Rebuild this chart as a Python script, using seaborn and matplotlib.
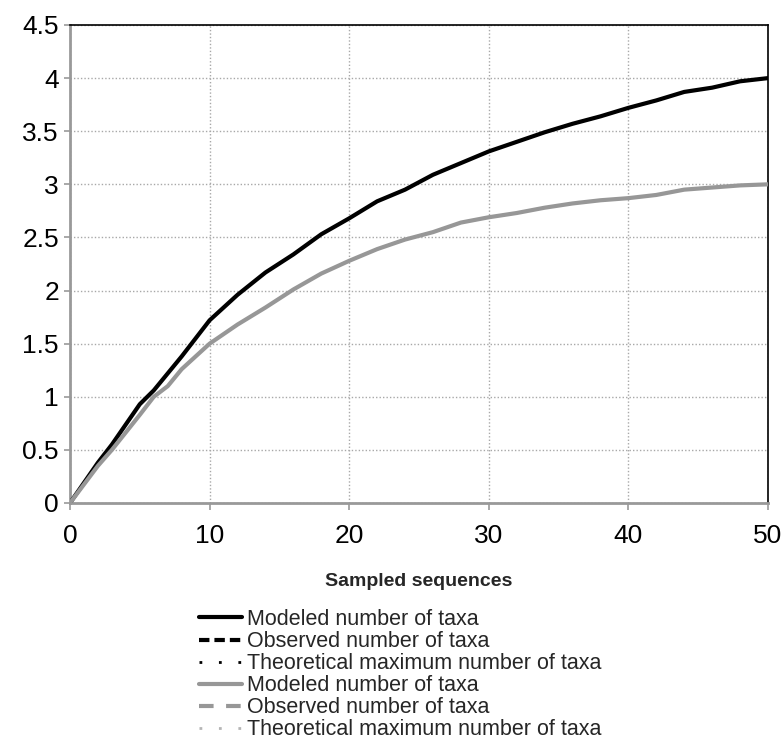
import numpy as np
import pandas as pd
import matplotlib
matplotlib.use('Agg')
import matplotlib.pyplot as plt
from matplotlib.lines import Line2D
import seaborn as sns

# sampled sequences (x) and modeled number of taxa for the two samples
x_vals = [0, 2, 3, 5, 6, 7, 8, 10, 12, 14, 16, 18, 20, 22, 24, 26, 28, 30,
          32, 34, 36, 38, 40, 42, 44, 46, 48, 50]
modeled_black = [0, 0.38, 0.55, 0.93, 1.06, 1.22, 1.38, 1.72, 1.96, 2.17, 2.34,
                 2.53, 2.68, 2.84, 2.95, 3.09, 3.2, 3.31, 3.4, 3.49, 3.57,
                 3.64, 3.72, 3.79, 3.87, 3.91, 3.97, 4.0]
modeled_gray = [0, 0.35, 0.5, 0.83, 1.0, 1.1, 1.26, 1.5, 1.68, 1.84, 2.01,
                2.16, 2.28, 2.39, 2.48, 2.55, 2.64, 2.69, 2.73, 2.78, 2.82,
                2.85, 2.87, 2.9, 2.95, 2.97, 2.99, 3.0]

legend_labels = ['Modeled number of taxa', 'Observed number of taxa',
                 'Theoretical maximum number of taxa']

BLACK = '#000000'
GRAY = '#979797'
LIGHT = '#b5b5b5'

df = pd.concat([
    pd.DataFrame({'x': x_vals, 'y': modeled_black, 'series': 'black'}),
    pd.DataFrame({'x': x_vals, 'y': modeled_gray, 'series': 'gray'}),
])

sns.set_style('white')
plt.rcParams['font.family'] = ['Liberation Sans', 'DejaVu Sans']

fig = plt.figure(figsize=(7.84, 7.56), dpi=100)
ax = fig.add_axes([70 / 784, 1 - 503 / 756, 698 / 784, 478 / 756])

sns.lineplot(data=df, x='x', y='y', hue='series',
             palette={'black': BLACK, 'gray': GRAY},
             linewidth=3, legend=False, ax=ax, zorder=3)

ax.set_xlim(0, 50)
ax.set_ylim(0, 4.5)
ax.set_xticks([0, 10, 20, 30, 40, 50])
ax.set_yticks(np.arange(0, 4.51, 0.5))
ax.set_yticklabels(['0', '0.5', '1', '1.5', '2', '2.5', '3', '3.5', '4', '4.5'])
ax.grid(True, linestyle=(0, (1, 1.5)), color='#a8a8a8', linewidth=1)

ax.tick_params(axis='both', labelsize=19, colors='#999999', labelcolor='black')
ax.tick_params(axis='x', length=5, width=1.2, pad=10, direction='out', bottom=True)
ax.tick_params(axis='y', length=4, width=1.2, pad=4, direction='out', left=True)

for side in ['left', 'bottom']:
    ax.spines[side].set_color('#999999')
    ax.spines[side].set_linewidth(2)
for side in ['top', 'right']:
    ax.spines[side].set_color('#000000')
    ax.spines[side].set_linewidth(1.2)

ax.set_xlabel('Sampled sequences', fontsize=14, fontweight='bold', labelpad=18)
ax.set_ylabel('')

handles = [
    Line2D([], [], color=BLACK, lw=3, linestyle='-'),
    Line2D([], [], color=BLACK, lw=3, linestyle=(0, (2.5, 1.2))),
    Line2D([], [], color=BLACK, lw=2, linestyle=(0, (1, 6))),
    Line2D([], [], color=GRAY, lw=3, linestyle='-'),
    Line2D([], [], color=GRAY, lw=3, linestyle=(0, (3.5, 3))),
    Line2D([], [], color=LIGHT, lw=2, linestyle=(0, (1, 6))),
]
fig.legend(handles, legend_labels * 2, loc='upper left',
           bbox_to_anchor=(199 / 784, 1 - 609 / 756), frameon=False,
           fontsize=15.5, handlelength=2.0, handletextpad=0.25,
           labelspacing=0.05, borderpad=0, borderaxespad=0)

fig.savefig('out.png', dpi=100)
